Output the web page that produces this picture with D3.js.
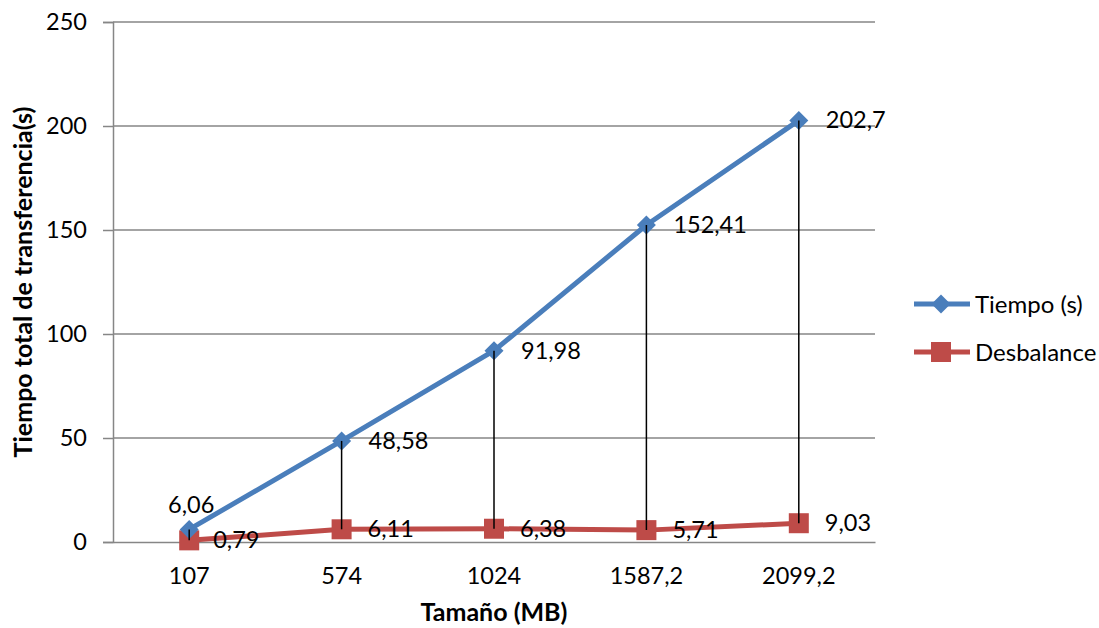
<!DOCTYPE html>
<html>
<head>
<meta charset="utf-8">
<script src="https://cdn.jsdelivr.net/npm/d3@7"></script>
<style>
  html, body { margin: 0; padding: 0; background: #fff; }
  text { font-family: Lato, "Open Sans", sans-serif; fill: #000; }
</style>
</head>
<body>
<svg id="chart" width="1099" height="628"></svg>
<script>
// Transfer size categories (MB)
const categories = ["107", "574", "1024", "1587,2", "2099,2"];
// Total transfer time per size (s)
const tiempo = [6.06, 48.58, 91.98, 152.41, 202.7];
// Load imbalance per size
const desbalance = [0.79, 6.11, 6.38, 5.71, 9.03];
const yTicks = [0, 50, 100, 150, 200, 250];
const seriesNames = ["Tiempo (s)", "Desbalance"];

const fmt = v => String(v).replace(".", ",");

const svg = d3.select("#chart");
const plotLeft = 113, plotRight = 875, plotTop = 22, plotBottom = 542;
const labelSize = "23.5px";

const x = d3.scaleBand().domain(categories).range([plotLeft, plotRight]);
const y = d3.scaleLinear().domain([0, 250]).range([plotBottom, plotTop]);
const cx = c => x(c) + x.bandwidth() / 2;

const blue = "#4A7EBB", red = "#BE4B48", grid = "#868686";

// horizontal gridlines
svg.append("g").selectAll("line").data(yTicks.filter(t => t > 0)).join("line")
  .attr("x1", plotLeft).attr("x2", plotRight)
  .attr("y1", d => y(d)).attr("y2", d => y(d))
  .attr("stroke", grid).attr("stroke-width", 1.5);

// y axis
const yAxis = svg.append("g").attr("transform", `translate(${plotLeft},0)`)
  .call(d3.axisLeft(y).tickValues(yTicks).tickSize(10).tickPadding(16).tickFormat(d => d));
yAxis.select(".domain").attr("stroke", grid).attr("stroke-width", 1.5);
yAxis.selectAll(".tick line").attr("stroke", grid).attr("stroke-width", 1.5);
yAxis.selectAll("text").style("font-size", labelSize).style("font-family", "Lato, sans-serif").attr("fill", "#000");

// x axis
const xAxis = svg.append("g").attr("transform", `translate(0,${plotBottom})`)
  .call(d3.axisBottom(x).tickSize(0).tickPadding(25));
xAxis.select(".domain").attr("stroke", grid).attr("stroke-width", 1.5);
xAxis.selectAll("text").style("font-size", labelSize).style("font-family", "Lato, sans-serif").attr("fill", "#000");

// axis titles
svg.append("text")
  .attr("transform", `translate(32,${(plotTop + plotBottom) / 2}) rotate(-90)`)
  .attr("text-anchor", "middle")
  .style("font-size", "25px").style("font-weight", "bold")
  .text("Tiempo total de transferencia(s)");
svg.append("text")
  .attr("x", (plotLeft + plotRight) / 2).attr("y", 621)
  .attr("text-anchor", "middle")
  .style("font-size", "25px").style("font-weight", "bold")
  .text("Tamaño (MB)");

const line = d3.line().x((d, i) => cx(categories[i])).y(d => y(d));

// Desbalance series
svg.append("path").datum(desbalance).attr("d", line)
  .attr("fill", "none").attr("stroke", red).attr("stroke-width", 5).attr("stroke-linejoin", "round");
// Tiempo series
svg.append("path").datum(tiempo).attr("d", line)
  .attr("fill", "none").attr("stroke", blue).attr("stroke-width", 5).attr("stroke-linejoin", "round");

// markers
svg.append("g").selectAll("rect").data(desbalance).join("rect")
  .attr("x", (d, i) => cx(categories[i]) - 10).attr("y", d => y(d) - 10)
  .attr("width", 20).attr("height", 20).attr("fill", red);
svg.append("g").selectAll("path").data(tiempo).join("path")
  .attr("d", (d, i) => {
    const px = cx(categories[i]), py = y(d), r = 9.5;
    return `M${px},${py - r}L${px + r},${py}L${px},${py + r}L${px - r},${py}Z`;
  })
  .attr("fill", blue);

// high-low lines between the two series
svg.append("g").selectAll("line").data(categories).join("line")
  .attr("x1", d => cx(d)).attr("x2", d => cx(d))
  .attr("y1", (d, i) => y(tiempo[i])).attr("y2", (d, i) => y(desbalance[i]))
  .attr("stroke", "#000").attr("stroke-width", 1.5);

// data labels
svg.append("g").selectAll("text").data(tiempo).join("text")
  .attr("x", (d, i) => i === 0 ? cx(categories[i]) + 2 : cx(categories[i]) + 27)
  .attr("y", (d, i) => i === 0 ? y(d) - 16 : y(d) + 8)
  .attr("text-anchor", (d, i) => i === 0 ? "middle" : "start")
  .style("font-size", labelSize)
  .text(d => fmt(d));
svg.append("g").selectAll("text").data(desbalance).join("text")
  .attr("x", (d, i) => cx(categories[i]) + (i === 0 ? 24 : 26))
  .attr("y", d => y(d) + 8)
  .style("font-size", labelSize)
  .text(d => fmt(d));

// legend
const legend = svg.append("g");
const legendRows = [
  { name: seriesNames[0], color: blue, shape: "diamond", y: 304 },
  { name: seriesNames[1], color: red, shape: "square", y: 352 }
];
legendRows.forEach(r => {
  legend.append("line").attr("x1", 914).attr("x2", 970).attr("y1", r.y).attr("y2", r.y)
    .attr("stroke", r.color).attr("stroke-width", 5);
  if (r.shape === "diamond") {
    legend.append("path").attr("d", `M941,${r.y - 9.5}L950.5,${r.y}L941,${r.y + 9.5}L931.5,${r.y}Z`).attr("fill", r.color);
  } else {
    legend.append("rect").attr("x", 931).attr("y", r.y - 10).attr("width", 20).attr("height", 20).attr("fill", r.color);
  }
  legend.append("text").attr("x", 975).attr("y", r.y + 8.5).style("font-size", "24px").text(r.name);
});
</script>
</body>
</html>
